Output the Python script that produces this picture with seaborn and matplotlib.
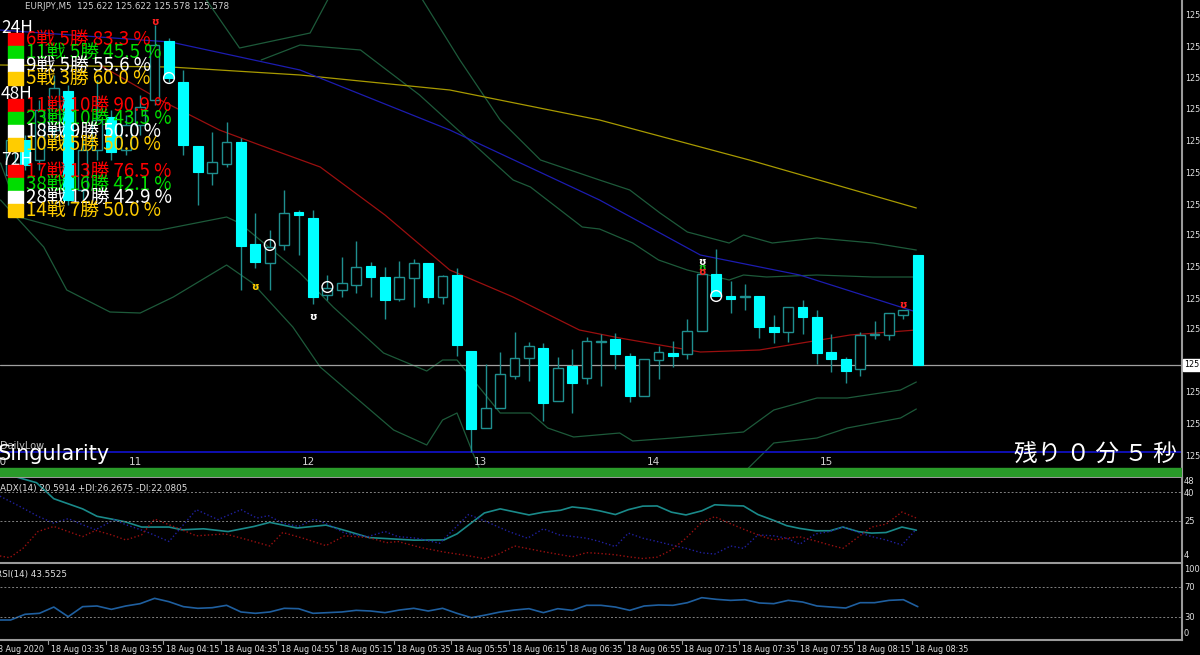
import numpy as np
import pandas as pd
import matplotlib
matplotlib.use("Agg")
import matplotlib.pyplot as plt
import seaborn as sns

# EURJPY M5 candles, 18 Aug 2020 03:20 .. 08:35
opens = [125.654, 125.668, 125.660, 125.672, 125.6876, 125.648, 125.664, 125.6772, 125.664, 125.674,
         125.684, 125.7076, 125.6912, 125.6656, 125.6548, 125.6584, 125.6672, 125.6264, 125.6188, 125.626,
         125.6392, 125.6368, 125.606, 125.608, 125.610, 125.6176, 125.6132, 125.6044, 125.6128, 125.6188,
         125.6052, 125.614, 125.5836, 125.5528, 125.5608, 125.5736, 125.5808, 125.5848, 125.5636, 125.5776,
         125.5728, 125.5872, 125.5884, 125.5816, 125.5656, 125.580, 125.5828, 125.5824, 125.5916, 125.6144,
         125.6056, 125.6052, 125.6056, 125.5932, 125.5912, 125.6012, 125.5972, 125.5832, 125.5804, 125.5764,
         125.590, 125.590, 125.598, 125.622]
highs = [125.674, 125.670, 125.684, 125.694, 125.690, 125.668, 125.692, 125.680, 125.678, 125.686,
         125.714, 125.7088, 125.696, 125.6656, 125.6712, 125.6752, 125.6688, 125.6388, 125.632, 125.648,
         125.640, 125.640, 125.614, 125.6212, 125.6276, 125.6192, 125.6172, 125.6196, 125.6204, 125.6188,
         125.614, 125.6168, 125.5836, 125.5784, 125.5832, 125.5912, 125.5872, 125.5868, 125.5812, 125.5844,
         125.5892, 125.5904, 125.5908, 125.5828, 125.5804, 125.5856, 125.5876, 125.5964, 125.6144, 125.6244,
         125.6116, 125.6104, 125.6056, 125.598, 125.6012, 125.604, 125.600, 125.5904, 125.5812, 125.5912,
         125.5956, 125.5988, 125.5996, 125.622]
lows = [125.650, 125.656, 125.656, 125.668, 125.642, 125.644, 125.660, 125.660, 125.662, 125.670,
        125.682, 125.6912, 125.662, 125.642, 125.650, 125.6572, 125.608, 125.6168, 125.608, 125.624,
        125.622, 125.6024, 125.604, 125.6052, 125.6068, 125.6052, 125.5964, 125.6036, 125.6012, 125.6028,
        125.6024, 125.5816, 125.5432, 125.5528, 125.5608, 125.5724, 125.5716, 125.5556, 125.5636, 125.5588,
        125.5704, 125.5696, 125.5764, 125.5632, 125.5656, 125.5724, 125.5772, 125.5804, 125.5916, 125.6056,
        125.5988, 125.600, 125.5888, 125.5868, 125.5872, 125.5904, 125.5784, 125.5752, 125.5708, 125.5736,
        125.5884, 125.588, 125.5964, 125.578]
closes = [125.668, 125.658, 125.680, 125.6888, 125.644, 125.664, 125.676, 125.6632, 125.674, 125.6812,
          125.706, 125.6928, 125.666, 125.6552, 125.6592, 125.6672, 125.6256, 125.6192, 125.6252, 125.6388,
          125.638, 125.6052, 125.6088, 125.6108, 125.6172, 125.6132, 125.604, 125.6132, 125.6188, 125.6052,
          125.6136, 125.586, 125.5524, 125.5608, 125.5744, 125.5808, 125.5856, 125.5628, 125.5768, 125.5708,
          125.5876, 125.5876, 125.5824, 125.5656, 125.5804, 125.5832, 125.5816, 125.5916, 125.6144, 125.6056,
          125.6044, 125.6056, 125.5932, 125.5912, 125.6012, 125.5972, 125.5828, 125.5804, 125.5756, 125.590,
          125.590, 125.5988, 125.600, 125.578]

# moving averages / bands (bar index, price)
ma_yellow_x = [-0.74, 11.1, 20.1, 30.5, 40.9, 51.3, 62.9]
ma_yellow_y = [125.698, 125.6972, 125.694, 125.688, 125.676, 125.660, 125.6408]
ma_blue_x = [-0.74, 11.1, 20.1, 30.5, 40.9, 47.9, 54.8, 62.9]
ma_blue_y = [125.712, 125.7072, 125.696, 125.672, 125.644, 125.622, 125.614, 125.5992]
ma_red_x = [6.2, 10.4, 14.5, 17.3, 21.5, 26.0, 30.5, 34.9, 39.5, 42.3, 47.9, 52.0, 58.3, 62.9]
ma_red_y = [125.698, 125.684, 125.672, 125.666, 125.6572, 125.638, 125.616, 125.6052, 125.592, 125.5888,
            125.5832, 125.584, 125.590, 125.592]
bb_u3_x = [13.6, 15.9, 20.8, 22.2, 28.4, 31.2, 34.0, 36.8, 40.9, 43.0, 45.1, 47.0, 49.9, 50.9, 52.9, 56.0, 59.9, 62.9]
bb_u3_y = [125.724, 125.7048, 125.7108, 125.726, 125.726, 125.700, 125.676, 125.660, 125.652, 125.648,
           125.6388, 125.6312, 125.6268, 125.630, 125.6268, 125.6288, 125.6268, 125.624]
bb_u2_x = [17.4, 20.1, 24.3, 28.4, 32.6, 34.9, 36.1, 39.7, 40.9, 43.2, 45.0, 47.0, 49.9, 50.9, 52.5, 56.0, 59.9, 62.9]
bb_u2_y = [125.700, 125.706, 125.704, 125.686, 125.664, 125.652, 125.6492, 125.6332, 125.6324, 125.6268,
           125.620, 125.616, 125.612, 125.614, 125.6132, 125.614, 125.6132, 125.6132]
bb_l2_x = [-0.7, 0.7, 3.9, 10.4, 15.0, 15.9, 20.1, 22.4, 25.9, 28.9, 30.0, 31.0, 34.0, 36.1, 37.3, 39.1,
           42.3, 43.2, 46.0, 50.9, 53.0, 56.0, 58.1, 61.8, 62.9]
bb_l2_y = [125.6588, 125.637, 125.632, 125.632, 125.6372, 125.6348, 125.6148, 125.6012, 125.5828, 125.5756,
           125.580, 125.580, 125.5588, 125.5588, 125.5528, 125.5492, 125.5508, 125.5476, 125.5488, 125.5512,
           125.560, 125.5648, 125.5648, 125.568, 125.5712]
bb_l3_x = [-0.7, 2.3, 3.9, 6.9, 9.0, 11.3, 15.0, 16.8, 19.6, 21.5, 23.6, 26.6, 28.9, 30.0, 31.0, 32.1, 32.6,
           38.2, 47.9, 51.1, 53.0, 56.0, 58.1, 61.8, 62.9]
bb_l3_y = [125.644, 125.6252, 125.608, 125.5992, 125.5988, 125.6052, 125.618, 125.6108, 125.5932, 125.5772,
           125.5668, 125.552, 125.546, 125.556, 125.5588, 125.5428, 125.536, 125.516, 125.516, 125.536,
           125.5468, 125.5488, 125.5528, 125.5568, 125.5604]

# signal marks
circle_x = [11, 18, 22, 49]
circle_y = [125.6928, 125.626, 125.6092, 125.6056]
sign_x = [10, 17, 21, 48, 48, 48, 62]
sign_y = [125.7152, 125.6092, 125.5972, 125.6192, 125.6168, 125.6152, 125.602]
sign_c = ["#ff2020", "#ffcc00", "white", "white", "#22cc22", "#ff2020", "#ff2020"]

current_price = 125.578
daily_low = 125.5432

# ADX(14)
adx_x = [-0.7, 1.8, 3.0, 5.0, 6.0, 7.0, 8.0, 9.1, 11.0, 11.9, 13.4, 15.1, 16.9, 18.0, 19.9, 21.9, 23.3, 24.9,
         26.1, 28.0, 30.1, 31.0, 32.9, 34.0, 36.0, 37.0, 38.2, 39.0, 40.0, 40.9, 42.0, 42.9, 43.9, 44.9, 45.9,
         46.9, 48.0, 48.9, 50.0, 50.9, 51.9, 53.0, 53.9, 54.8, 55.9, 56.9, 57.8, 58.9, 59.8, 60.8, 61.9, 62.9]
adx_v = [50.0, 44.8, 36.6, 31.4, 27.6, 26.2, 24.7, 22.1, 22.1, 20.7, 21.2, 19.8, 22.4, 24.5, 21.6, 23.1, 20.2,
         16.7, 16.2, 15.4, 15.5, 18.6, 29.3, 31.4, 28.3, 29.7, 30.7, 32.4, 31.6, 30.4, 28.5, 31.0, 32.8, 32.9,
         29.7, 28.3, 30.4, 33.5, 33.1, 32.9, 28.5, 25.5, 22.8, 21.4, 20.2, 20.2, 22.1, 19.7, 19.0, 19.3, 22.1, 20.5]
di_blue_x = [-0.74, 0.6, 1.9, 3.0, 4.0, 5.0, 5.9, 7.2, 8.0, 9.4, 11.0, 12.9, 14.4, 16.0, 17.1, 17.9, 18.9, 20.0,
             21.1, 22.1, 23.2, 24.8, 26.0, 26.9, 28.2, 29.8, 31.8, 33.0, 34.6, 35.9, 37.0, 38.1, 40.0, 40.9,
             42.0, 42.9, 43.9, 44.9, 45.9, 46.9, 48.0, 48.9, 50.0, 50.9, 51.9, 53.0, 53.9, 54.8, 55.9, 56.9,
             57.8, 58.9, 59.8, 60.8, 61.9, 62.9]
di_blue_v = [37.9, 32.8, 27.6, 24.1, 26.4, 23.3, 20.7, 25.9, 23.3, 19.8, 14.7, 31.0, 25.9, 31.0, 26.7, 27.9, 24.1,
             22.4, 26.2, 23.3, 19.0, 17.2, 19.8, 17.2, 16.4, 13.8, 28.5, 25.0, 19.8, 16.4, 21.2, 18.1, 16.4, 14.7,
             12.1, 19.0, 16.4, 14.7, 12.9, 11.2, 8.9, 8.3, 12.4, 11.2, 18.1, 17.6, 16.4, 13.3, 18.6, 19.8, 22.1,
             19.3, 17.2, 15.5, 12.9, 21.0]
di_red_x = [-0.74, -0.07, 0.86, 1.9, 3.0, 4.0, 5.0, 5.9, 7.0, 8.0, 9.1, 10.0, 11.0, 11.9, 12.9, 14.9, 16.3, 18.0,
            18.9, 20.3, 21.9, 23.2, 24.9, 26.1, 26.9, 28.5, 30.1, 31.8, 32.9, 33.9, 35.0, 37.0, 39.0, 40.0,
            40.9, 42.0, 42.9, 43.9, 44.9, 45.9, 46.9, 48.0, 48.9, 50.0, 50.9, 51.9, 53.0, 53.9, 54.8, 55.9,
            56.9, 57.8, 58.9, 59.8, 60.8, 61.9, 62.9]
di_red_v = [7.3, 6.4, 11.2, 19.8, 22.4, 19.8, 17.2, 20.4, 18.1, 15.5, 18.1, 26.2, 23.3, 20.7, 17.6, 18.6, 15.9,
            12.4, 19.3, 16.4, 12.6, 17.6, 16.7, 14.1, 14.7, 11.6, 9.3, 7.4, 5.9, 8.3, 12.4, 9.5, 6.9, 9.0, 8.6,
            7.9, 6.9, 6.0, 6.7, 10.4, 16.4, 24.5, 27.4, 23.8, 21.0, 18.1, 15.5, 16.4, 17.1, 15.0, 12.9, 11.2,
            17.2, 22.1, 23.6, 29.8, 26.7]

# RSI(14), one value per bar from index -1
rsi_v = [25.6, 25.6, 33.2, 34.5, 42.9, 30.0, 43.4, 44.3, 39.8, 44.3, 47.4, 54.5, 50.0, 43.4, 41.2, 42.0, 45.2,
         36.3, 34.5, 36.3, 41.2, 40.7, 34.5, 35.4, 36.3, 38.5, 37.6, 35.4, 38.9, 41.2, 37.6, 41.2, 34.5, 28.7,
         32.3, 36.3, 38.9, 40.7, 35.4, 40.7, 38.5, 45.2, 45.2, 42.9, 38.5, 44.3, 45.6, 45.2, 48.7, 55.4, 53.2,
         51.8, 52.7, 48.3, 47.4, 51.8, 49.6, 44.3, 42.9, 41.6, 48.7, 48.7, 51.8, 52.7, 43.4]

time_labels = ["18 Aug 2020", "18 Aug 03:35", "18 Aug 03:55", "18 Aug 04:15", "18 Aug 04:35", "18 Aug 04:55",
               "18 Aug 05:15", "18 Aug 05:35", "18 Aug 05:55", "18 Aug 06:15", "18 Aug 06:35", "18 Aug 06:55",
               "18 Aug 07:15", "18 Aug 07:35", "18 Aug 07:55", "18 Aug 08:15", "18 Aug 08:35"]
time_pos = [-1, 3, 7, 11, 15, 19, 23, 27, 31, 35, 39, 43, 47, 51, 55, 59, 63]
hour_labels = ["10", "11", "12", "13", "14", "15"]
hour_pos = [-1.2, 8.2, 20.2, 32.2, 44.2, 56.2]

stats_blocks = ["24H", "48H", "72H"]
stats_rows = [["6戦 5勝 83.3 %", "11戦 5勝 45.5 %", "9戦 5勝 55.6 %", "5戦 3勝 60.0 %"],
              ["11戦 10勝 90.9 %", "23戦 10勝 43.5 %", "18戦 9勝 50.0 %", "10戦 5勝 50.0 %"],
              ["17戦 13勝 76.5 %", "38戦 16勝 42.1 %", "28戦 12勝 42.9 %", "14戦 7勝 50.0 %"]]
row_colors = ["#ff0000", "#00dd00", "#ffffff", "#ffcc00"]

sns.set_theme(style="dark", rc={"axes.facecolor": "black", "figure.facecolor": "black"})
plt.rcParams["font.family"] = ["Noto Sans CJK JP", "DejaVu Sans"]

W, H = 1200, 655
fig = plt.figure(figsize=(12, 6.55), dpi=100)
XL = (-0.736, 81.35)


def axes_px(top, bottom):
    return fig.add_axes([0, 1 - bottom / H, 1182 / W, (bottom - top) / H])


ax = axes_px(0, 477)
ax_adx = axes_px(478, 563)
ax_rsi = axes_px(565, 640)
for a in (ax, ax_adx, ax_rsi):
    a.set_facecolor("black")
    a.set_xlim(*XL)
    a.set_xticks([])
    a.set_yticks([])
    a.grid(False)
    for s in a.spines.values():
        s.set_color("#9a9a9a")
        s.set_linewidth(1.5)
    a.spines["left"].set_visible(False)
    a.spines["top"].set_visible(False)
ax.set_ylim(125.5332, 125.724)
ax_adx.set_ylim(3.7, 47.2)
ax_rsi.set_ylim(-1.1, 99)

# bollinger bands and MAs
band_col = "#1d5a3a"
for xs, ys, col in [(bb_u3_x, bb_u3_y, band_col), (bb_u2_x, bb_u2_y, band_col),
                    (bb_l2_x, bb_l2_y, band_col), (bb_l3_x, bb_l3_y, band_col),
                    (ma_yellow_x, ma_yellow_y, "#a89a00"), (ma_blue_x, ma_blue_y, "#1c1cb0"),
                    (ma_red_x, ma_red_y, "#9a0f0f")]:
    sns.lineplot(x=xs, y=ys, ax=ax, color=col, lw=0.9, sort=False, legend=False)

ax.axhline(current_price, color="#a0a0a0", lw=0.9)
ax.axhline(daily_low, color="#1010c0", lw=1.3)
ax.axhspan(125.5334, 125.5368, color="#2a9a2a", zorder=3)

# candles
idx = np.arange(len(opens))
o, h, l, c = map(np.array, (opens, highs, lows, closes))
up = c >= o
ax.vlines(idx, l, h, color="#1f8f8f", lw=1, zorder=4)
ax.bar(idx[~up], (o - c)[~up], bottom=c[~up], width=0.68, color="#00ffff", edgecolor="#00ffff", lw=0.8, zorder=5)
ax.bar(idx[up], np.maximum((c - o)[up], 0.0003), bottom=o[up], width=0.68, color="black",
       edgecolor="#1f8f8f", lw=1.0, zorder=5)

ax.scatter(circle_x, circle_y, s=60, facecolors="none", edgecolors="white", lw=1, zorder=6)
for x, y, col in zip(sign_x, sign_y, sign_c):
    ax.text(x, y, "ʊ", color=col, fontsize=7, ha="center", va="center", fontweight="bold",
            family="DejaVu Sans", zorder=7)

# price axis labels
price_ticks = [125.718, 125.7052, 125.6924, 125.68, 125.6676, 125.6548, 125.642, 125.6296, 125.6168,
               125.6044, 125.592, 125.5668, 125.554, 125.5412]
for p in price_ticks:
    fig.text(1185 / W, 0, "125", color="#e0e0e0", fontsize=5.8, va="center", ha="left",
             family="DejaVu Sans",
             transform=matplotlib.transforms.blended_transform_factory(fig.transFigure, ax.transData)).set_y(p)
fig.text(1184 / W, 0, "125", color="black", fontsize=5.8, va="center", ha="left", family="DejaVu Sans",
         transform=matplotlib.transforms.blended_transform_factory(fig.transFigure, ax.transData),
         bbox=dict(facecolor="white", edgecolor="white", pad=0.8)).set_y(current_price)

for p, lab in zip(hour_pos, hour_labels):
    ax.text(p, 125.5372, lab, color="#d0d0d0", fontsize=7.5, ha="left", va="bottom", family="DejaVu Sans")

# overlay texts
fig.text(25 / W, 1 - 2 / H, "EURJPY,M5  125.622 125.622 125.578 125.578",
         color="#d0d0d0", fontsize=6.3, va="top", family="DejaVu Sans")
ytop = 19
for b, block in enumerate(stats_blocks):
    fig.text(1 / W, 1 - ytop / H, block, color="white", fontsize=12.5, va="top")
    for r, txt in enumerate(stats_rows[b]):
        yy = ytop + 14 + r * 13
        fig.patches.append(plt.Rectangle((8 / W, 1 - (yy + 13) / H), 15 / W, 13 / H,
                                         transform=fig.transFigure, color=row_colors[r], zorder=10))
        fig.text(26 / W, 1 - (yy - 4) / H, txt, color=row_colors[r], fontsize=13.5, va="top", zorder=11)
    ytop += 66

fig.text(0, 1 - 446 / H, "DailyLow", color="#c0c0c0", fontsize=7, va="center", family="DejaVu Sans")
fig.text(-0.002, 1 - 454 / H, "Singularity", color="white", fontsize=15, va="center", family="DejaVu Sans")
fig.text(1177 / W, 1 - 455 / H, "残り ０ 分 ５ 秒", color="white", fontsize=17, va="center", ha="right")

# ADX panel
sns.lineplot(x=adx_x, y=adx_v, ax=ax_adx, color="#1a8a8a", lw=1.2, sort=False, legend=False)
sns.lineplot(x=di_blue_x, y=di_blue_v, ax=ax_adx, color="#2020a0", lw=1, ls=":", sort=False, legend=False)
sns.lineplot(x=di_red_x, y=di_red_v, ax=ax_adx, color="#9a1010", lw=1, ls=":", sort=False, legend=False)
for lv in (40, 25):
    ax_adx.axhline(lv, color="#808080", lw=0.7, ls=(0, (2, 2)))
for lv, ypx in [("48", 482), ("40", 493), ("25", 521), ("4", 556)]:
    fig.text(1184 / W, 1 - ypx / H, lv, color="#e0e0e0", fontsize=6, va="center", family="DejaVu Sans")
ax_adx.text(0.0, 0.93, "ADX(14) 20.5914 +DI:26.2675 -DI:22.0805", transform=ax_adx.transAxes,
            color="#e0e0e0", fontsize=6.3, va="top", family="DejaVu Sans")

# RSI panel
sns.lineplot(x=np.arange(-1, len(rsi_v) - 1), y=rsi_v, ax=ax_rsi, color="#1f5f9f", lw=1.2, legend=False)
for lv in (70, 30):
    ax_rsi.axhline(lv, color="#808080", lw=0.7, ls=(0, (2, 2)))
for lv, ypx in [("100", 569), ("70", 587), ("30", 617), ("0", 634)]:
    fig.text(1184 / W, 1 - ypx / H, lv, color="#e0e0e0", fontsize=6, va="center", family="DejaVu Sans")
ax_rsi.text(-0.003, 0.93, "RSI(14) 43.5525", transform=ax_rsi.transAxes, color="#e0e0e0",
            fontsize=6.3, va="top", family="DejaVu Sans")

for p, lab in zip(time_pos, time_labels):
    ax_rsi.text(p - 0.2, -0.06, lab, transform=ax_rsi.get_xaxis_transform(), color="#e0e0e0",
                fontsize=5.8, ha="left", va="top", family="DejaVu Sans", clip_on=False)
    ax_rsi.plot([p - 0.4, p - 0.4], [0, -0.05], transform=ax_rsi.get_xaxis_transform(),
                color="#9a9a9a", lw=0.8, clip_on=False)

fig.savefig("out.png", dpi=100, facecolor="black")
